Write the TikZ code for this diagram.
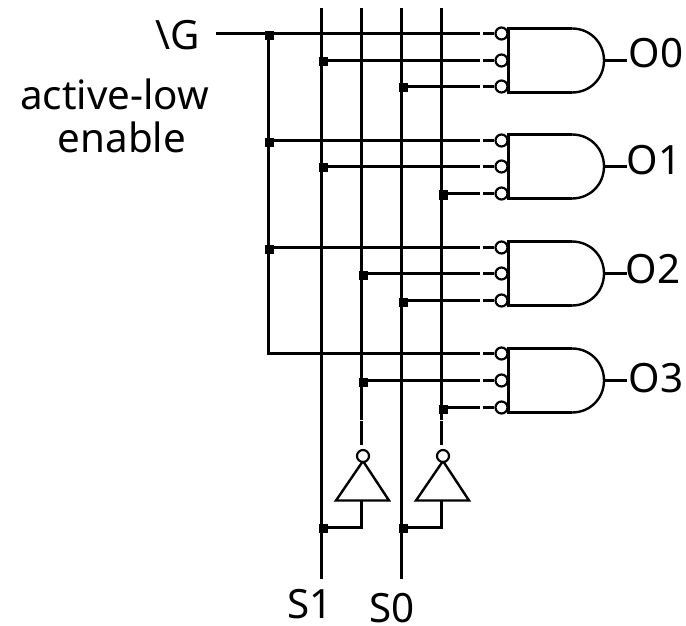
\documentclass[tikz,border=0pt]{standalone}
\usepackage{fontspec}
\setmainfont{Noto Sans}
\tikzset{
  wire/.style={draw=black,line width=2.4bp},
  junction/.style={fill=black,draw=none,minimum size=9bp,inner sep=0pt,shape=rectangle},
  bubble/.style={circle,draw=black,fill=white,line width=2.2bp,minimum size=12bp,inner sep=0pt},
  lbl/.style={font=\fontsize{40.5}{44}\selectfont,inner sep=0pt,text=black,anchor=base},
}
\begin{document}
\begin{tikzpicture}[x=1bp,y=-1bp]
\useasboundingbox (0,0) rectangle (686,626);
% bus ends
\coordinate (gin) at (216,33.5);
\coordinate (s1top) at (321.5,8);
\coordinate (s1bot) at (321.5,579);
\coordinate (s0top) at (401.5,8);
\coordinate (s0bot) at (401.5,579);
\coordinate (n1top) at (361.5,8);
\coordinate (n1gapa) at (361.5,419.5);
\coordinate (n1gapb) at (361.5,421);
\coordinate (n1end) at (361.5,445);
\coordinate (n0top) at (441.5,8);
\coordinate (n0gapa) at (441.5,419.5);
\coordinate (n0gapb) at (441.5,421);
\coordinate (n0end) at (441.5,445);
\draw[wire] (s1top) -- (s1bot);
\draw[wire] (s0top) -- (s0bot);
\draw[wire] (n1top) -- (n1gapa);
\draw[wire] (n1gapb) -- (n1end);
\draw[wire] (n0top) -- (n0gapa);
\draw[wire] (n0gapb) -- (n0end);
% gates and inputs
\foreach \g/\y/\yb/\yc/\ym/\xb/\xc/\lab/\lx/\ly in {
  0/33.5/60.5/86.5/60.5/321.5/401.5/O0/656/68,
  1/140.5/166.5/193.5/166.5/321.5/441.5/O1/654/175,
  2/247.5/273.5/300.5/273.5/361.5/401.5/O2/653/283,
  3/353.5/380.5/407.5/380.5/361.5/441.5/O3/656/392}{
  \coordinate (g\g tl) at (508.5,\ym-32);
  \coordinate (g\g bl) at (508.5,\ym+32);
  \coordinate (g\g tm) at (572,\ym-32);
  \coordinate (g\g bm) at (572,\ym+32);
  \coordinate (g\g out) at (604,\ym);
  \coordinate (g\g end) at (627,\ym);
  \draw[wire,line join=miter] (g\g tm) -- (g\g tl) -- (g\g bl) -- (g\g bm);
  \draw[wire] (g\g tm) .. controls (590,\ym-32) and (604,\ym-18) .. (g\g out)
              .. controls (604,\ym+18) and (590,\ym+32) .. (g\g bm);
  \draw[wire] (g\g out) -- (g\g end);
  \node[lbl] (lab\g) at (\lx,\ly) {\lab};
  % three bubbles
  \node[bubble] (b\g a) at (501.5,\y) {};
  \node[bubble] (b\g b) at (501.5,\yb) {};
  \node[bubble] (b\g c) at (501.5,\yc) {};
  % junction-side and gap coordinates
  \coordinate (srcb) at (\xb,\yb);
  \coordinate (srcc) at (\xc,\yc);
  \coordinate (en\g) at (268.5,\y);
  \draw[wire] (en\g) -- (480,\y);
  \draw[wire] (483.3,\y) -- (b\g a);
  \draw[wire] (srcb) -- (480,\yb);
  \draw[wire] (483.3,\yb) -- (b\g b);
  \draw[wire] (srcc) -- (480,\yc);
  \draw[wire] (483.3,\yc) -- (b\g c);
  \node[junction] (jb\g) at (\xb+2,\yb+1.5) {};
  \node[junction] (jc\g) at (\xc+2,\yc+1.5) {};
}
% enable line
\draw[wire] (gin) -- (en0);
\draw[wire,line cap=rect] (en0) -- (en3);
\foreach \g in {0,1,2}{
  \node[junction] (je\g) at ([shift={(1.0,2)}]en\g) {};
}
% inverters
\foreach \n/\x/\src in {1/361.5/321.5,0/441.5/401.5}{
  \coordinate (t\n a) at (\x+1.5,461);
  \coordinate (t\n l) at (\x-25.5,500.5);
  \coordinate (t\n r) at (\x+27.5,500.5);
  \coordinate (t\n in) at (\x,500.5);
  \coordinate (t\n c) at (\x,527.5);
  \coordinate (t\n s) at (\src,527.5);
  \draw[wire,line join=miter] (t\n a) -- (t\n l) -- (t\n r) -- cycle;
  \node[bubble] (inv\n) at (\x+1.5,456) {};
  \draw[wire] (t\n in) -- (t\n c) -- (t\n s);
  \node[junction] (ji\n) at (\src+2,528.5) {};
}
% labels
\node[lbl] (lg) at (177.5,50) {\textbackslash G};
\node[lbl] (la) at (114.5,110) {active-low};
\node[lbl] (le) at (122,153) {enable};
\node[lbl] (ls1) at (310,618) {S1};
\node[lbl] (ls0) at (392,622) {S0};
\end{tikzpicture}
\end{document}
